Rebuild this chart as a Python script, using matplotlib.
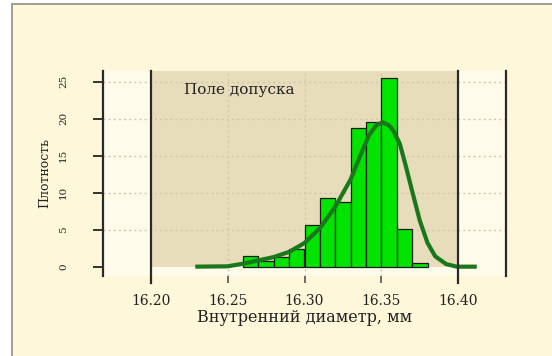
import numpy as np
import matplotlib
matplotlib.use('Agg')
import matplotlib.pyplot as plt
from matplotlib.patches import Rectangle

# histogram of the inner diameter (density), bins of 0.01 mm
bin_edges = [16.26, 16.27, 16.28, 16.29, 16.30, 16.31, 16.32,
             16.33, 16.34, 16.35, 16.36, 16.37, 16.38]
density = [1.45, 0.7, 1.35, 2.35, 5.6, 9.3, 8.7, 18.8, 19.5, 25.5, 5.05, 0.45]

# density curve
curve_x = [16.229, 16.250, 16.260, 16.270, 16.280, 16.290, 16.300, 16.310,
           16.320, 16.330, 16.336, 16.342, 16.347, 16.351, 16.355, 16.358,
           16.362, 16.366, 16.370, 16.375, 16.380, 16.385, 16.392, 16.399,
           16.412]
curve_y = [0.0, 0.05, 0.4, 0.85, 1.3, 2.0, 3.2, 5.2, 8.1, 11.8, 14.9, 17.8,
           19.2, 19.5, 19.1, 18.3, 16.6, 13.5, 10.2, 6.2, 3.2, 1.4, 0.36,
           0.0, 0.0]

# tolerance field
tol_low, tol_high = 16.20, 16.40
tol_label = 'Поле допуска'

x_ticks = [16.20, 16.25, 16.30, 16.35, 16.40]
y_ticks = [0, 5, 10, 15, 20, 25]

x_lim = (16.169, 16.431)
y_lim = (-1.22, 26.49)

serif = 'DejaVu Serif'

fig = plt.figure(figsize=(5.52, 3.56), dpi=100)
fig.patch.set_facecolor('white')

# cream panel with grey border on the left and top
fig.add_artist(Rectangle((12 / 552, -0.05), 1.1, 0.05 + 1 - 4 / 356,
                         transform=fig.transFigure, facecolor='#FFF7DA',
                         edgecolor='#8E8E84', linewidth=1.2, zorder=-5))

ax = fig.add_axes([103 / 552, 1 - 275.7 / 356, (506 - 103) / 552, (275.7 - 70.7) / 356])
ax.set_facecolor('#FFFBEA')
ax.set_xlim(*x_lim)
ax.set_ylim(*y_lim)

# shaded tolerance area from 0 up to the top
y0_frac = (0 - y_lim[0]) / (y_lim[1] - y_lim[0])
ax.axvspan(tol_low, tol_high, ymin=y0_frac, ymax=1, facecolor='#E8DDBB',
           edgecolor='none', zorder=0)

# dotted grid
for yv in y_ticks[1:]:
    ax.axhline(yv, color='#CFC8AE', linestyle=(0, (1.5, 2.2)), linewidth=1, zorder=1)
for xv in x_ticks[1:-1]:
    ax.axvline(xv, color='#CFC8AE', linestyle=(0, (1.5, 2.2)), linewidth=1, zorder=1)

# histogram bars
ax.bar(bin_edges[:-1], density, width=np.diff(bin_edges), align='edge',
       color='#00E400', edgecolor='#1A1A1A', linewidth=0.9, zorder=2)

# density curve
ax.plot(curve_x, curve_y, color='#1B771B', linewidth=3, solid_joinstyle='round',
        solid_capstyle='butt', zorder=3)

# tolerance limits
for xv in (tol_low, tol_high):
    ax.axvline(xv, ymin=-0.035, ymax=1, color='#2A2A2A', linewidth=1.6,
               clip_on=False, zorder=4)

ax.text(16.2578, 23.9, tol_label, ha='center', va='center', fontsize=11,
        family=serif, color='#222222', zorder=5)

for side in ('top', 'bottom'):
    ax.spines[side].set_visible(False)
for side in ('left', 'right'):
    ax.spines[side].set_color('#2A2A2A')
    ax.spines[side].set_linewidth(1.6)

ax.set_xticks(x_ticks)
ax.set_xticklabels([f'{v:.2f}' for v in x_ticks], family=serif, fontsize=10)
ax.tick_params(axis='x', length=5, width=1.1, color='#444444', pad=8,
               labelcolor='#222222')

ax.set_yticks(y_ticks)
ax.set_yticklabels([str(v) for v in y_ticks], family=serif, fontsize=7.5,
                   rotation=90, va='center')
ax.tick_params(axis='y', length=7, width=1.4, color='#333333', pad=18,
               labelcolor='#222222')

ax.set_xlabel('Внутренний диаметр, мм', family=serif, fontsize=11.5,
              color='#222222', labelpad=1)
ax.set_ylabel('Плотность', family=serif, fontsize=9, color='#222222', labelpad=6)

fig.savefig('out.png', dpi=100, facecolor=fig.get_facecolor())
